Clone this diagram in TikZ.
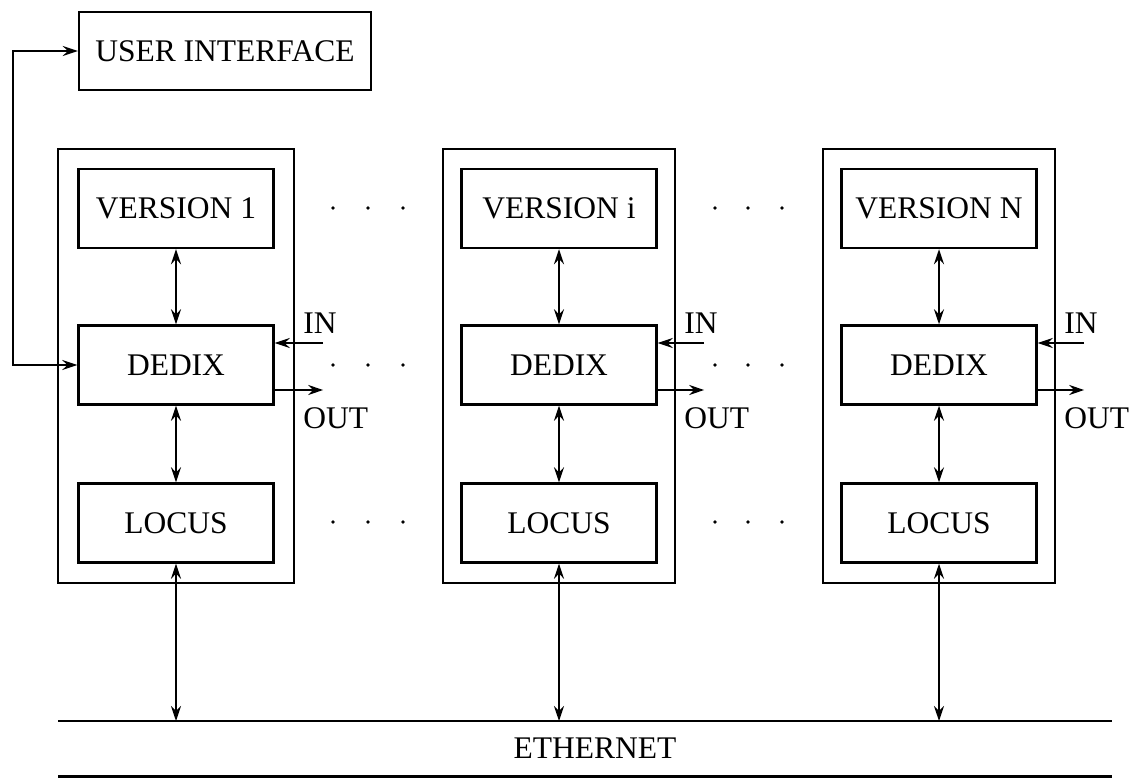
\documentclass[tikz,border=0pt]{standalone}
\usepackage{fontspec}
\setmainfont{Liberation Serif}
\usetikzlibrary{arrows.meta,calc}
\tikzset{
  txt/.style={font=\fontsize{31.5}{37}\selectfont, inner sep=0pt},
  inbox/.style={txt, draw, line width=2.4pt, minimum width=195pt, minimum height=79pt},
  uibox/.style={txt, draw, line width=2.4pt, minimum width=292pt, minimum height=78pt},
  outerbox/.style={draw, line width=2.4pt, minimum height=434pt, inner sep=0pt},
  tip/.style={line width=2pt, -{Stealth[length=15pt,width=10pt,inset=5pt]}},
  dbl/.style={line width=2pt, {Stealth[length=15pt,width=10pt,inset=5pt]}-{Stealth[length=15pt,width=10pt,inset=5pt]}},
  lbl/.style={txt, anchor=west},
}
\begin{document}
\begin{tikzpicture}[x=1pt,y=-1pt]
\useasboundingbox (0,0) rectangle (1131,778);
% user interface
\node[uibox] (ui) at (225,51) {USER INTERFACE};
% stacks
\foreach \i/\cx/\ow/\vname in {1/176/236/VERSION 1, 2/559/232/VERSION i, 3/939/232/VERSION N}{
  \node[outerbox, minimum width=\ow pt] (o\i) at (\cx,366) {};
  \node[inbox] (v\i) at (\cx,208.5) {\vname};
  \node[inbox] (d\i) at (\cx,365) {DEDIX};
  \node[inbox] (l\i) at (\cx,523) {LOCUS};
  \coordinate (e\i) at (\cx,721);
  \draw[dbl] (v\i.south) -- (d\i.north);
  \draw[dbl] (d\i.south) -- (l\i.north);
  \draw[dbl] (l\i.south) -- (e\i);
  \coordinate (in\i) at ($(o\i.east)+(28,-23)$);
  \coordinate (out\i) at ($(o\i.east)+(28,24)$);
  \draw[tip] (in\i) -- (d\i.east |- in\i);
  \draw[tip] (d\i.east |- out\i) -- (out\i);
  \node[lbl] (inl\i) at ($(o\i.east)+(8,-43)$) {IN};
  \node[lbl] (outl\i) at ($(o\i.east)+(8,52)$) {OUT};
}
% link from user interface to DEDIX 1
\draw[dbl] (ui.west) -- ++(-65,0) |- (d1.west);
% dots
\foreach \y in {208,365,522}{
  \foreach \x in {333,368,403,715,748,782}{
    \fill (\x,\y) circle (1.9pt);
  }
}
% ethernet
\coordinate (etl) at (58,721);
\coordinate (etr) at (1112,721);
\coordinate (ebl) at (58,776.5);
\coordinate (ebr) at (1112,776.5);
\draw[line width=2.4pt] (etl) -- (etr);
\draw[line width=2.4pt] (ebl) -- (ebr);
\node[txt] (eth) at (595,748) {ETHERNET};
\end{tikzpicture}
\end{document}
